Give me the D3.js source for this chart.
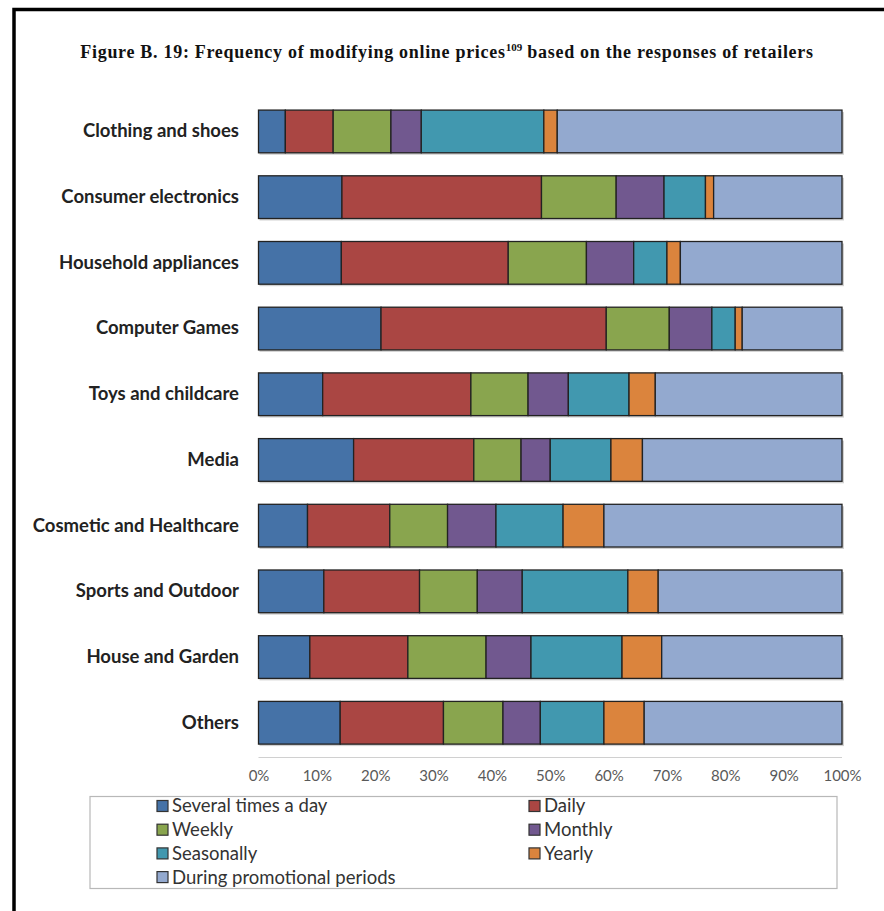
<!DOCTYPE html>
<html>
<head>
<meta charset="utf-8">
<script src="https://cdn.jsdelivr.net/npm/d3@7"></script>
<style>
  html, body { margin: 0; padding: 0; background: #fff; }
  svg { display: block; }
</style>
</head>
<body>
<script>
const categories = ["Clothing and shoes", "Consumer electronics", "Household appliances", "Computer Games",
  "Toys and childcare", "Media", "Cosmetic and Healthcare", "Sports and Outdoor", "House and Garden", "Others"];
const seriesNames = ["Several times a day", "Daily", "Weekly", "Monthly", "Seasonally", "Yearly", "During promotional periods"];
const severalTimesADay = [4.6, 14.3, 14.2, 21.0, 11.0, 16.3, 8.4, 11.2, 8.8, 14.0];
const daily            = [8.2, 34.2, 28.6, 38.6, 25.4, 20.6, 14.1, 16.4, 16.8, 17.7];
const weekly           = [9.9, 12.8, 13.4, 10.8, 9.8, 8.1, 9.9, 9.9, 13.4, 10.2];
const monthly          = [5.2, 8.2, 8.1, 7.3, 6.9, 5.0, 8.3, 7.7, 7.7, 6.4];
const seasonally       = [21.0, 7.1, 5.7, 4.0, 10.4, 10.4, 11.5, 18.1, 15.6, 10.9];
const yearly           = [2.3, 1.4, 2.3, 1.2, 4.5, 5.4, 7.0, 5.2, 6.8, 6.9];
const promotional      = [48.8, 22.0, 27.7, 17.1, 32.0, 34.2, 40.8, 31.5, 30.9, 33.9];
const tickValues = [0, 10, 20, 30, 40, 50, 60, 70, 80, 90, 100];
const colors = ["#4572A7", "#AA4643", "#89A54E", "#71588F", "#4198AF", "#DB843D", "#93A9CF"];

const W = 884, H = 911;
const svg = d3.select("body").append("svg").attr("width", W).attr("height", H);

// frame
svg.append("path").attr("d", `M14,${H} L14,9.5 L${W},9.5`)
  .attr("fill", "none").attr("stroke", "#000").attr("stroke-width", 3.5);

// title
const title = svg.append("text").attr("x", 447).attr("y", 58).attr("text-anchor", "middle")
  .attr("font-family", "Liberation Serif").attr("font-weight", "bold").attr("font-size", 18)
  .attr("letter-spacing", 0.7).attr("fill", "#111");
title.append("tspan").text("Figure B. 19: Frequency of modifying online prices");
title.append("tspan").attr("font-size", 11).attr("letter-spacing", 0).attr("dy", -7).text("109");
title.append("tspan").attr("dy", 7).text(" based on the responses of retailers");

const seriesValues = [severalTimesADay, daily, weekly, monthly, seasonally, yearly, promotional];
const rows = categories.map((c, i) => {
  const r = { cat: c };
  seriesNames.forEach((s, j) => r[s] = seriesValues[j][i]);
  return r;
});
const stack = d3.stack().keys(seriesNames)(rows);

const x = d3.scaleLinear().domain([0, 100]).range([258.5, 842]);
const y = d3.scaleBand().domain(categories).range([98.6, 755.6]).paddingInner(0.35).paddingOuter(0.175);

// shadows
svg.append("g").selectAll("rect").data(rows).join("rect")
  .attr("x", x(0) + 1).attr("y", d => y(d.cat) + 2)
  .attr("width", x(100) - x(0) + 1).attr("height", y.bandwidth())
  .attr("fill", "#9a9a9a").attr("opacity", 0.45);

// bars
svg.append("g").selectAll("g").data(stack).join("g")
  .attr("fill", (d, i) => colors[i])
  .selectAll("rect").data(d => d).join("rect")
  .attr("x", d => x(d[0])).attr("y", d => y(d.data.cat))
  .attr("width", d => x(d[1]) - x(d[0])).attr("height", y.bandwidth())
  .attr("stroke", "#222").attr("stroke-width", 1.3);

// axis line
svg.append("line").attr("x1", x(0)).attr("x2", x(100)).attr("y1", 757.5).attr("y2", 757.5)
  .attr("stroke", "#d0d0d0").attr("stroke-width", 1.2);

// x axis labels
const xAxis = d3.axisBottom(x).tickValues(tickValues).tickFormat(d => d + "%").tickSize(0).tickPadding(0);
const gx = svg.append("g").attr("transform", "translate(0,772)").call(xAxis);
gx.select(".domain").remove();
gx.selectAll("text").attr("font-family", "Lato").attr("font-size", 15).attr("fill", "#595959").attr("dy", "0.6em");

// y labels
const yAxis = d3.axisLeft(y).tickSize(0).tickPadding(0);
const gy = svg.append("g").attr("transform", "translate(239,0)").call(yAxis);
gy.select(".domain").remove();
gy.selectAll("text").attr("font-family", "Lato").attr("font-weight", "bold").attr("font-size", 18.5).attr("fill", "#222");

// legend
svg.append("rect").attr("x", 90).attr("y", 796.5).attr("width", 747).attr("height", 92)
  .attr("fill", "#fff").attr("stroke", "#b8b8b8").attr("stroke-width", 1.2);
const lg = svg.append("g").selectAll("g").data(seriesNames).join("g")
  .attr("transform", (d, i) => `translate(${i % 2 === 0 ? 157 : 529},${806 + Math.floor(i / 2) * 23.7})`);
lg.append("rect").attr("x", 0).attr("y", -5.5).attr("width", 11).attr("height", 11)
  .attr("fill", (d, i) => colors[i]).attr("stroke", "#333").attr("stroke-width", 1.2);
lg.append("text").attr("x", 15).attr("y", 0).attr("dy", "0.35em").text(d => d)
  .attr("font-family", "Lato").attr("font-size", 18.5).attr("fill", "#333");
</script>
</body>
</html>
